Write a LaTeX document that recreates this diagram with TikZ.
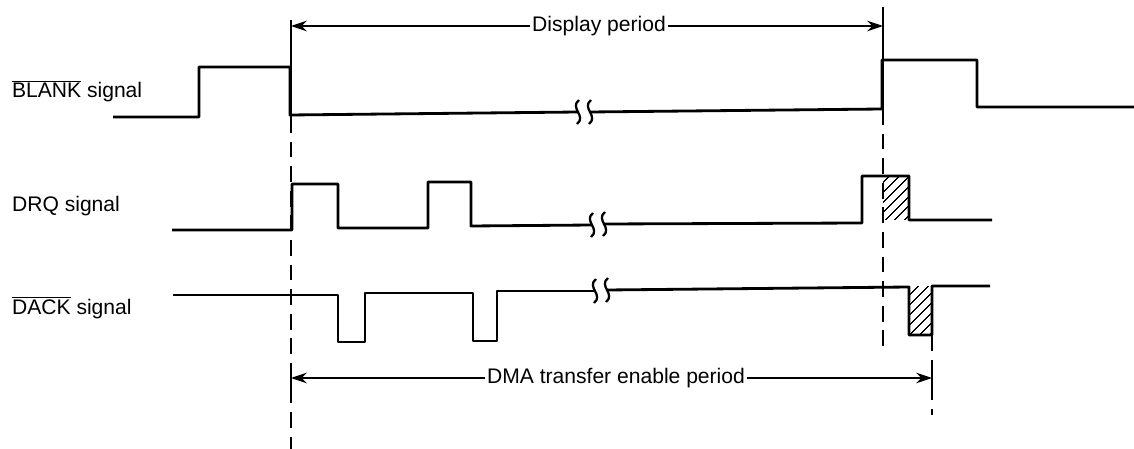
\documentclass[tikz,border=0pt]{standalone}
\usepackage{fontspec}
\setmainfont{Liberation Sans}
\usetikzlibrary{arrows.meta,patterns.meta}

\begin{document}
\begin{tikzpicture}[x=0.02cm,y=-0.02cm,
		sig/.style={line width=1.6pt, line join=round},
		guide/.style={line width=1pt, dash pattern=on 9pt off 5pt},
		tick/.style={line width=1pt},
		dim/.style={line width=0.7pt, -{Stealth[length=9pt,width=6pt]}},
		lbl/.style={font=\fontsize{12}{14}\selectfont, inner sep=1pt},
		hatch/.style={pattern={Lines[angle=45,distance=4pt,line width=0.7pt]}},
		brk/.pic={\draw[line width=1.3pt] (1,-12) .. controls (-9,-4) and (9,4) .. (-1,12);}]
		\useasboundingbox (0,0) rectangle (1134,449);
		\node[lbl, anchor=base west](blank) at (10,98) {$\overline{\mbox{BLANK}}$ signal};
		\node[lbl, anchor=base west](drq) at (10,212) {DRQ signal};
		\node[lbl, anchor=base west](dack) at (10,315) {$\overline{\mbox{DACK}}$ signal};
		\node[lbl](disp) at (599,26) {Display period};
		\node[lbl](dma) at (616,378) {DMA transfer enable period};
		\coordinate (dl) at (291,26);
		\coordinate (dr) at (883,26);
		\coordinate (ml) at (291,378);
		\coordinate (mr) at (932,378);
		\draw [tick] (291,20) -- (291,117);
		\draw [guide] (291,117) -- (291,449);
		\draw [tick] (883,7) -- (883,109);
		\draw [guide] (883,109) -- (883,347);
		\draw [guide] (932,335) -- (932,415);
		\draw [tick] (291,365) -- (291,390);
		\draw [tick] (932,365) -- (932,388);
		\draw [dim] (disp.west) -- (dl);
		\draw [dim] (disp.east) -- (dr);
		\draw [dim] (dma.west) -- (ml);
		\draw [dim] (dma.east) -- (mr);
		\fill [hatch] (883,176) rectangle (909,220);
		\fill [hatch] (909,287) rectangle (932,335);
		\draw [sig] (113,117) -- (199,117) -- (199,67) -- (290,67) -- (290,115) -- (578,112);
		\draw [sig] (590,112) -- (882,109) -- (882,60) -- (977,60) -- (977,107) -- (1134,107);
		\draw [sig] (172,230) -- (292,230) -- (292,184) -- (338,184) -- (338,228) -- (428,228) -- (428,182) -- (471,182) -- (471,226) -- (592,225);
		\draw [sig] (604,224) -- (862,223) -- (862,176) -- (909,176) -- (909,220) -- (992,220);
		\draw [sig] (173,295) -- (338,295) -- (338,342) -- (365,342) -- (365,293) -- (473,293) -- (473,341) -- (497,341) -- (497,291) -- (595,291);
		\draw [sig] (607,290) -- (909,287) -- (909,335) -- (932,335) -- (932,286) -- (990,286);
		\draw pic at (578,112) {brk} pic at (590,112) {brk};
		\draw pic at (592,225) {brk} pic at (604,224) {brk};
		\draw pic at (595,291) {brk} pic at (607,290) {brk};
	\end{tikzpicture}
\end{document}
